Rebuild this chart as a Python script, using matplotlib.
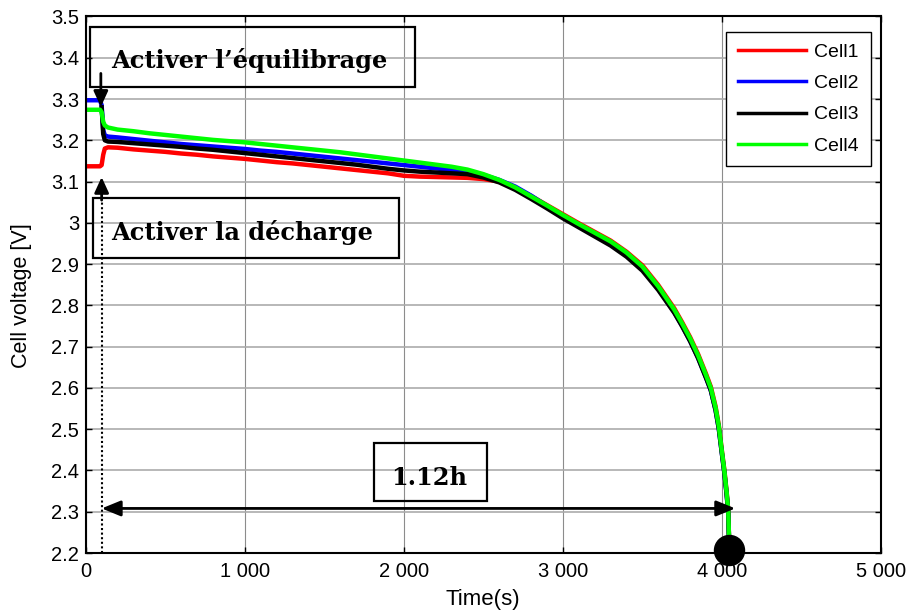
import matplotlib
matplotlib.use('Agg')
import matplotlib.pyplot as plt
from matplotlib.patches import Rectangle

plt.rcParams['font.family'] = ['Liberation Sans', 'DejaVu Sans']

# time axis (s) shared by the four cells
t_cell = [0, 90, 100, 110, 120, 140,
          200, 300, 400, 500, 600, 700, 800, 900, 1000, 1100, 1200, 1300, 1400,
          1500, 1600, 1700, 1800, 1900, 2000, 2100, 2200, 2300, 2400,
          2500, 2600, 2700, 2800, 2900, 3000, 3100, 3200, 3300, 3400, 3500, 3600, 3700,
          3750, 3800, 3850, 3900, 3930, 3960, 3980, 4000, 4015, 4030, 4040, 4046]

cell1 = [3.137, 3.137, 3.140, 3.165, 3.180, 3.183,
         3.182, 3.178, 3.175, 3.172, 3.168, 3.165, 3.161, 3.158, 3.155, 3.151, 3.147, 3.144, 3.140,
         3.136, 3.132, 3.128, 3.124, 3.120, 3.114, 3.112, 3.111, 3.110, 3.109,
         3.106, 3.100, 3.085, 3.065, 3.043, 3.021, 2.999, 2.978, 2.957, 2.930, 2.897, 2.849, 2.793,
         2.759, 2.723, 2.682, 2.634, 2.603, 2.555, 2.510, 2.447, 2.402, 2.347, 2.302, 2.215]

cell2 = [3.297, 3.297, 3.285, 3.225, 3.212, 3.209,
         3.207, 3.203, 3.199, 3.195, 3.191, 3.188, 3.185, 3.182, 3.179, 3.175, 3.172, 3.168, 3.164,
         3.160, 3.156, 3.152, 3.148, 3.144, 3.140, 3.136, 3.132, 3.128, 3.123,
         3.116, 3.104, 3.088, 3.066, 3.041, 3.015, 2.992, 2.970, 2.949, 2.922, 2.888, 2.840, 2.784,
         2.750, 2.714, 2.673, 2.625, 2.594, 2.546, 2.502, 2.440, 2.395, 2.340, 2.295, 2.212]

cell3 = [3.296, 3.296, 3.280, 3.215, 3.200, 3.197,
         3.196, 3.193, 3.190, 3.187, 3.184, 3.180, 3.177, 3.173, 3.169, 3.165, 3.161, 3.157, 3.153,
         3.149, 3.145, 3.141, 3.136, 3.131, 3.127, 3.124, 3.122, 3.120, 3.118,
         3.110, 3.098, 3.080, 3.058, 3.035, 3.011, 2.989, 2.967, 2.945, 2.918, 2.884, 2.837, 2.782,
         2.749, 2.713, 2.672, 2.624, 2.594, 2.546, 2.502, 2.440, 2.395, 2.340, 2.296, 2.212]

cell4 = [3.274, 3.274, 3.268, 3.245, 3.236, 3.231,
         3.226, 3.222, 3.217, 3.213, 3.209, 3.205, 3.201, 3.198, 3.195, 3.191, 3.187, 3.183, 3.179,
         3.175, 3.171, 3.166, 3.161, 3.156, 3.151, 3.146, 3.141, 3.136, 3.129,
         3.118, 3.104, 3.086, 3.064, 3.042, 3.019, 2.997, 2.976, 2.955, 2.928, 2.894, 2.846, 2.790,
         2.756, 2.720, 2.679, 2.631, 2.600, 2.552, 2.508, 2.445, 2.400, 2.345, 2.300, 2.215]

labels = ['Cell1', 'Cell2', 'Cell3', 'Cell4']
colors = ['#ff0000', '#0000ff', '#000000', '#00ff00']

xticks = [0, 1000, 2000, 3000, 4000, 5000]
xtick_labels = ['0', '1 000', '2 000', '3 000', '4 000', '5 000']
yticks = [2.2, 2.3, 2.4, 2.5, 2.6, 2.7, 2.8, 2.9, 3.0, 3.1, 3.2, 3.3, 3.4, 3.5]
ytick_labels = ['2.2', '2.3', '2.4', '2.5', '2.6', '2.7', '2.8', '2.9', '3',
                '3.1', '3.2', '3.3', '3.4', '3.5']

# events
t_balance = 95        # balancing switched on
t_discharge = 100     # discharge switched on
t_end, v_end = 4046, 2.207
span_v = 2.308
span_end = 4084

fig = plt.figure(figsize=(9.12, 6.15), dpi=100)
ax = fig.add_axes([0.094, 0.1008, 0.872, 0.8724])

for v, lab, c in zip([cell1, cell2, cell3, cell4], labels, colors):
    if lab == 'Cell3':
        # before the switch Cell3 sits under Cell2, only draw it from there on
        ax.plot(t_cell[2:], v[2:], color=c, lw=3.2, label=lab)
    else:
        ax.plot(t_cell, v, color=c, lw=3.2, label=lab)

ax.set_xlim(0, 5000)
ax.set_ylim(2.2, 3.5)
ax.set_xticks(xticks, xtick_labels)
ax.set_yticks(yticks, ytick_labels)
ax.tick_params(direction='in', top=True, right=True, length=4.5, width=1, labelsize=14.5)
ax.tick_params(axis='x', pad=6.5)
ax.tick_params(axis='y', pad=4.6)
ax.xaxis.grid(True, color='#8c8c8c', lw=0.8)
ax.yaxis.grid(True, color='#ababab', lw=1.2)
ax.set_axisbelow(True)
for s in ax.spines.values():
    s.set_linewidth(1.5)

ax.set_xlabel('Time(s)', fontsize=16)
ax.xaxis.set_label_coords(0.499, -0.067)
ax.set_ylabel('Cell voltage [V]', fontsize=15.5)
ax.yaxis.set_label_coords(-0.0675, 0.479)

leg = ax.legend(loc='upper right', bbox_to_anchor=(0.987, 0.9717), fontsize=14,
                fancybox=False, edgecolor='black', framealpha=1, handlelength=3.5,
                handletextpad=0.45, labelspacing=0.7, borderpad=0.6, borderaxespad=0)
leg.get_frame().set_linewidth(1.0)
for ln in leg.get_lines():
    ln.set_linewidth(2.5)

# annotation boxes
box_kw = dict(fill=False, ec='black', lw=1.6, clip_on=False)
txt_kw = dict(ha='center', va='baseline', fontsize=17.3, fontweight='bold', family='DejaVu Serif')
ax.add_patch(Rectangle((27, 3.329), 2044, 0.145, **box_kw))
ax.text(1028, 3.374, 'Activer l\u2019\u00e9quilibrage', **txt_kw)
ax.add_patch(Rectangle((44, 2.914), 1928, 0.145, **box_kw))
ax.text(981, 2.958, 'Activer la d\u00e9charge', **txt_kw)
ax.add_patch(Rectangle((1813, 2.327), 709, 0.139, **box_kw))
ax.text(2162, 2.365, '1.12h', **txt_kw)

# arrows
ax.annotate('', xy=(t_balance, 3.281), xytext=(t_balance, 3.362),
            arrowprops=dict(arrowstyle='-|>,head_length=0.94,head_width=0.43',
                            color='black', lw=2, mutation_scale=10, shrinkA=0, shrinkB=0))
ax.annotate('', xy=(t_discharge, 3.111), xytext=(t_discharge, 3.055),
            arrowprops=dict(arrowstyle='-|>,head_length=0.94,head_width=0.43',
                            color='black', lw=2, mutation_scale=10, shrinkA=0, shrinkB=0))
ax.plot([t_discharge, t_discharge], [2.2, 3.055], color='black', lw=1.5,
        linestyle=(0, (1, 1.2)))
ax.annotate('', xy=(span_end, span_v), xytext=(t_discharge, span_v),
            arrowprops=dict(arrowstyle='<|-|>,head_length=1.15,head_width=0.47',
                            color='black', lw=2, mutation_scale=10, shrinkA=0, shrinkB=0))
ax.plot([t_end], [v_end], 'o', color='black', ms=21.6, clip_on=False, zorder=5)

fig.savefig('out.png', dpi=100, facecolor='white')
